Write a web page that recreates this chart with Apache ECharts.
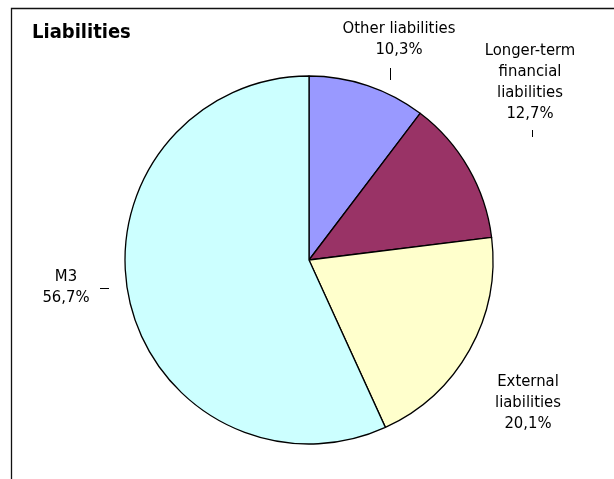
<!DOCTYPE html>
<html>
<head>
<meta charset="utf-8">
<script src="https://cdn.jsdelivr.net/npm/echarts@6/dist/echarts.min.js"></script>
<style>
html,body{margin:0;padding:0;background:#fff;}
#chart{width:614px;height:479px;}
</style>
</head>
<body>
<div id="chart"></div>
<script>
// categories and shares (%), clockwise from 12 o'clock
const categories = ["Other liabilities", "Longer-term\nfinancial\nliabilities", "External\nliabilities", "M3"];
const shares = [10.3, 12.7, 20.1, 56.7];
const colors = ["#9999FF", "#993366", "#FFFFCC", "#CCFFFF"];

// label placement (centre of text block) and small ticks
const labelPos = [[399, 39], [530, 82], [528, 403], [66, 287]];
const ticks = [
  [[390.5, 80], [390.5, 74], [390.5, 68]],
  [[532.5, 137], [532.5, 133], [532.5, 130]],
  null,
  [[109, 288.5], [104, 288.5], [100, 288.5]]
];

const font = "'DejaVu Sans Condensed', 'Liberation Sans', sans-serif";

const chart = echarts.init(document.getElementById("chart"));

chart.setOption({
  backgroundColor: "#fff",
  animation: false,
  title: {
    text: "Liabilities",
    left: 27,
    top: 18,
    textStyle: { fontFamily: font, fontSize: 20, fontWeight: "bold", color: "#000" }
  },
  graphic: [{
    type: "rect",
    shape: { x: 11.5, y: 8.5, width: 700, height: 600 },
    style: { fill: "none", stroke: "#111", lineWidth: 1.3 }
  }],
  series: [{
    type: "pie",
    center: [309, 260],
    radius: 184,
    startAngle: 90,
    clockwise: true,
    data: categories.map((c, i) => ({
      name: c,
      value: shares[i],
      itemStyle: { color: colors[i] }
    })),
    itemStyle: { borderColor: "#000", borderWidth: 1.3 },
    label: {
      show: true,
      position: "outside",
      overflow: "none",
      fontFamily: font,
      fontSize: 16.5,
      lineHeight: 21,
      color: "#000",
      align: "center",
      formatter: p => p.name + "\n" + String(p.value).replace(".", ",") + "%"
    },
    labelLine: {
      show: true,
      lineStyle: { color: "#000", width: 1 }
    },
    labelLayout: function (params) {
      const i = params.dataIndex;
      return {
        x: labelPos[i][0],
        y: labelPos[i][1],
        align: "center",
        verticalAlign: "middle",
        labelLinePoints: ticks[i] || [[0, 0], [0, 0], [0, 0]]
      };
    }
  }]
});
</script>
</body>
</html>
